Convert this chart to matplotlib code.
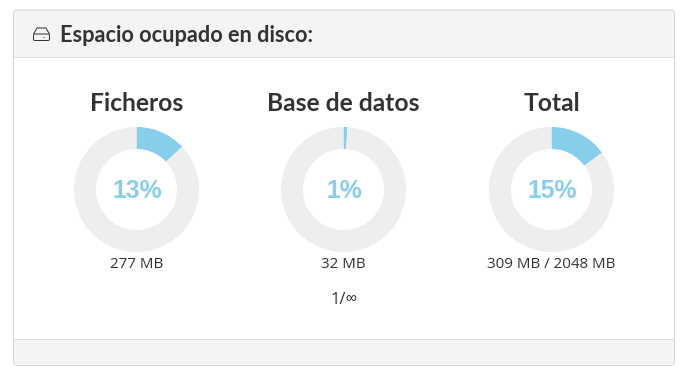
"""Disk usage panel with three donut gauges."""
import matplotlib
matplotlib.use("Agg")
import matplotlib.pyplot as plt
from matplotlib.patches import FancyBboxPatch, Rectangle, Polygon

W, H = 685, 378

titles = ["Ficheros", "Base de datos", "Total"]
percents = [13, 1, 15]
sizes = ["277 MB", "32 MB", "309 MB / 2048 MB"]
centers_x = [136.5, 343.5, 551.5]

BLUE = "#87ceeb"
GREY = "#eeeeee"
DARK = "#333333"
BORDER = "#dddddd"
PANEL = "#f4f4f4"
PX = 0.72  # one pixel line at dpi 100

fig = plt.figure(figsize=(W / 100, H / 100), dpi=100)
ax = fig.add_axes([0, 0, 1, 1])
ax.set_xlim(0, W)
ax.set_ylim(0, H)
ax.axis("off")


def py(y):
    # pixel rows count from the top
    return H - y


# panel frame, header and footer
outer = FancyBboxPatch((13.5, py(365.5)), 661, 355.5,
                       boxstyle="round,pad=0,rounding_size=4",
                       fc=PANEL, ec="#d8d8d8", lw=PX)
ax.add_patch(outer)
ax.add_patch(Rectangle((14, py(339)), 660, 282, fc="white", ec="none"))
ax.plot([14, 674], [py(57)] * 2, color=BORDER, lw=PX)
ax.plot([14, 674], [py(339)] * 2, color=BORDER, lw=PX)

# hard disk icon
ax.add_patch(FancyBboxPatch((33.5, py(40.5)), 16, 6.5,
                            boxstyle="round,pad=0,rounding_size=1.5",
                            fc="none", ec=DARK, lw=PX))
ax.add_patch(Polygon([(33.5, py(34)), (37, py(28)), (46, py(28)), (49.5, py(34))],
                     closed=False, fc="none", ec=DARK, lw=PX))
ax.plot([43.5, 45.5], [py(37.2)] * 2, color=DARK, lw=PX, ls=(0, (1, 1)))

ax.text(60, py(35.5), "Espacio ocupado en disco:", color=DARK, fontsize=15.7,
        family="Lato", fontweight="bold", ha="left", va="center")

for cx, title, pct, size in zip(centers_x, titles, percents, sizes):
    ax.pie([pct, 100 - pct], colors=[BLUE, GREY], startangle=90, counterclock=False,
           center=(cx, py(189.5)), radius=62.5, frame=True,
           wedgeprops=dict(width=22, linewidth=0))
    ax.text(cx, py(103.5), title, color=DARK, fontsize=17.7, family="Lato",
            fontweight="bold", ha="center", va="center")
    ax.text(cx + 0.5, py(191.5), f"{pct}%", color=BLUE, fontsize=17.8,
            family="Liberation Sans", fontweight="bold", ha="center", va="center")
    ax.text(cx, py(265), size, color=DARK, fontsize=10.9, family="Open Sans",
            ha="center", va="center")

ax.text(centers_x[1] + 1, py(299.5), "1/∞", color=DARK, fontsize=12,
        family=["Open Sans", "DejaVu Sans"], ha="center", va="center")

ax.set_xlim(0, W)
ax.set_ylim(0, H)
ax.set_aspect("auto")
ax.axis("off")

fig.savefig("out.png", dpi=100, facecolor="white")
